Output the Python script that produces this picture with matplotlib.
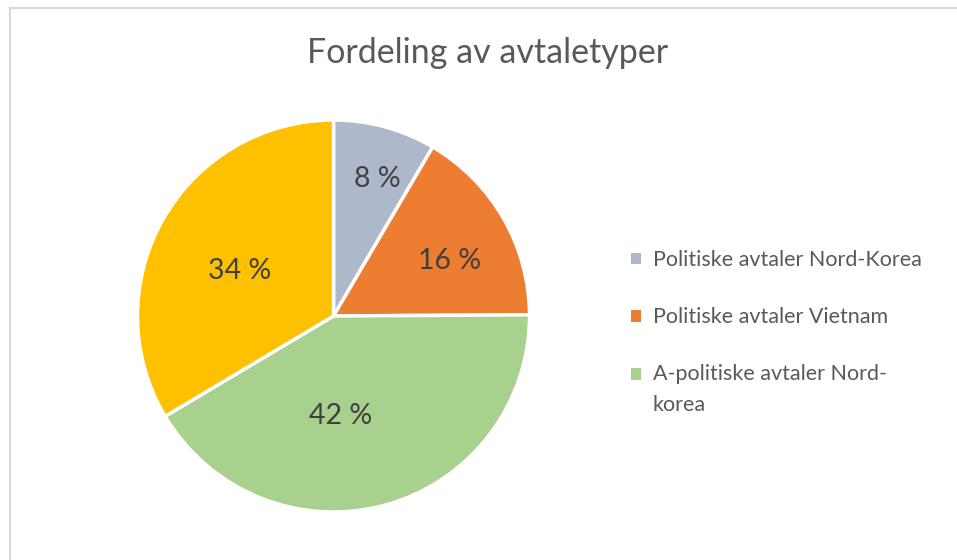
import matplotlib.pyplot as plt
from matplotlib.lines import Line2D

plt.rcParams['font.family'] = ['Lato', 'DejaVu Sans']

# data
labels = ['Politiske avtaler Nord-Korea', 'Politiske avtaler Vietnam',
          'A-politiske avtaler Nord-\nkorea', '']
shares = [8.45, 16.45, 41.55, 33.55]
colors = ['#ADB9CA', '#ED7D31', '#A9D18E', '#FFC000']
title = 'Fordeling av avtaletyper'

fig = plt.figure(figsize=(9.57, 5.6), dpi=100)

# chart frame (runs off right and bottom edge like the screenshot)
fig.add_artist(Line2D([9.5 / 957, 1], [1 - 7.5 / 560] * 2, color='#D9D9D9', lw=1.5))
fig.add_artist(Line2D([9.5 / 957] * 2, [0, 1 - 7.5 / 560], color='#D9D9D9', lw=1.5))

ax = fig.add_axes([(333.5 - 196) / 957, (244 - 196) / 560, 392 / 957, 392 / 560])
wedges, texts, pcts = ax.pie(shares, colors=colors, startangle=90, counterclock=False,
                             radius=1, autopct='%.0f %%', pctdistance=0.6,
                             wedgeprops=dict(edgecolor='white', linewidth=2.5),
                             textprops=dict(color='#404040', fontsize=20.5))
ax.set_xlim(-1, 1)
ax.set_ylim(-1, 1)
ax.set_aspect('equal')

# Excel's label spots (in radius units)
label_pos = [(0.225, 0.70), (0.59, 0.28), (0.035, -0.51), (-0.48, 0.23)]
for t, (x, y) in zip(pcts, label_pos):
    t.set_position((x, y))
    t.set_ha('center')
    t.set_va('center')

fig.text(488 / 957, 1 - 53 / 560, title, ha='center', va='center', fontsize=24.5, color='#595959')

leg = fig.legend(wedges[:3], labels[:3], loc='upper left', bbox_to_anchor=(612 / 957, 1 - 231 / 560),
                 frameon=False, fontsize=15.5, labelcolor='#595959',
                 handlelength=0.45, handleheight=0.45, handletextpad=0.55, labelspacing=1.72)
for h in leg.legend_handles:
    h.set_edgecolor('none')
for t in leg.get_texts():
    t.set_linespacing(1.65)
# Excel puts the marker next to the first line of a wrapped label
leg.legend_handles[2].set_y(leg.legend_handles[2].get_y() + 11.5)

fig.savefig('out.png', dpi=100)
